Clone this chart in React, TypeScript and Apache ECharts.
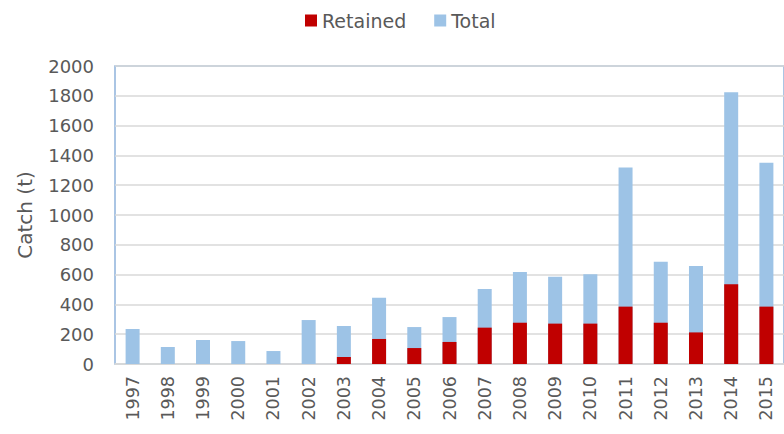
import React, { useEffect, useRef } from "react";
import * as echarts from "echarts";

const years = ["1997","1998","1999","2000","2001","2002","2003","2004","2005","2006","2007","2008","2009","2010","2011","2012","2013","2014","2015"];
const totalCatch = [235,114,161,154,87,295,255,445,248,315,503,617,586,602,1318,687,658,1823,1351];
const retainedCatch = [0,0,0,0,0,0,47,168,107,148,244,277,271,271,385,277,212,535,385];
const yTicks = { min: 0, max: 2000, interval: 200 };

export default function App() {
  const ref = useRef<HTMLDivElement>(null);
  useEffect(() => {
    if (!ref.current) return;
    const chart = echarts.init(ref.current, undefined, { renderer: "svg" });
    const font = "DejaVu Sans";
    chart.setOption({
      animation: false,
      backgroundColor: "#ffffff",
      textStyle: { fontFamily: font },
      legend: {
        data: ["Retained", "Total"],
        left: 300,
        top: 6,
        itemWidth: 12,
        itemHeight: 12,
        itemGap: 28,
        icon: "rect",
        textStyle: { fontFamily: font, fontSize: 19, color: "#595959" },
      },
      grid: {
        left: 115,
        top: 66,
        width: 676,
        height: 298,
        show: true,
        borderColor: "#8fb3dc",
        borderWidth: 1.5,
        backgroundColor: "transparent",
      },
      xAxis: {
        type: "category",
        data: years,
        axisLine: { show: true, lineStyle: { color: "#d9d9d9", width: 1.5 } },
        axisTick: { show: false },
        axisLabel: {
          rotate: 90,
          interval: 0,
          margin: 12,
          fontFamily: font,
          fontSize: 17.5,
          color: "#595959",
        },
      },
      yAxis: {
        type: "value",
        min: yTicks.min,
        max: yTicks.max,
        interval: yTicks.interval,
        name: "Catch (t)",
        nameLocation: "middle",
        nameGap: 80,
        nameTextStyle: { fontFamily: font, fontSize: 20, color: "#595959" },
        axisLine: { show: false },
        axisTick: { show: false },
        axisLabel: {
          fontFamily: font,
          fontSize: 18,
          color: "#595959",
          margin: 21,
          formatter: (v: number) => String(v),
        },
        splitLine: { show: true, lineStyle: { color: "#d9d9d9", width: 1.5 } },
      },
      series: [
        {
          name: "Total",
          type: "bar",
          data: totalCatch,
          barWidth: 14,
          barGap: "-100%",
          itemStyle: { color: "#9dc3e6" },
        },
        {
          name: "Retained",
          type: "bar",
          data: retainedCatch,
          barWidth: 14,
          barGap: "-100%",
          itemStyle: { color: "#c00000" },
        },
      ],
    });
    return () => chart.dispose();
  }, []);
  return (
    <div
      ref={ref}
      style={{ position: "absolute", left: 0, top: 0, width: 784, height: 434 }}
    />
  );
}
